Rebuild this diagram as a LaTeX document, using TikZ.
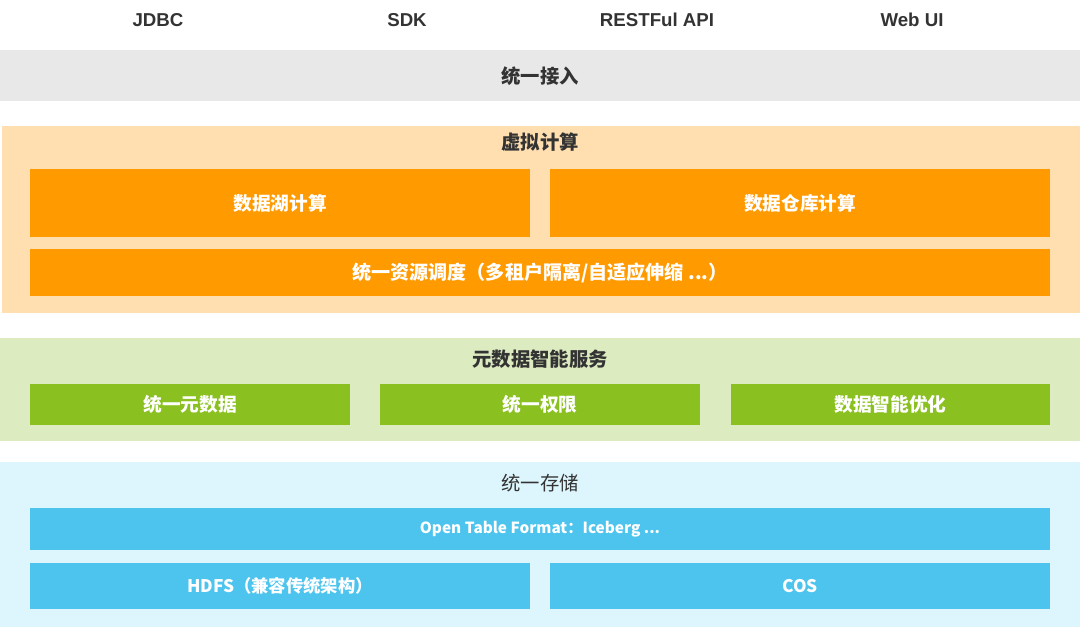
\documentclass[tikz,border=0pt]{standalone}
\usepackage{fontspec}
\setmainfont{Liberation Sans}
\newfontfamily\cjk{Noto Sans CJK SC}
\definecolor{textgray}{RGB}{51, 51, 51}
\definecolor{accessgray}{RGB}{232, 232, 232}
\definecolor{compbg}{RGB}{255, 223, 176}
\definecolor{compbox}{RGB}{255, 154, 0}
\definecolor{metabg}{RGB}{220, 235, 192}
\definecolor{metabox}{RGB}{138, 193, 32}
\definecolor{storebg}{RGB}{221, 246, 254}
\definecolor{storebox}{RGB}{77, 196, 238}

\begin{document}
\begin{tikzpicture}[x=0.75pt, y=-0.75pt,
  layer/.style={rectangle, inner sep=0pt, outer sep=0pt},
  title/.style={text=textgray, font=\cjk\bfseries\fontsize{14.5}{16}\selectfont},
  cell/.style={rectangle, inner sep=0pt, outer sep=0pt, text=white, font=\cjk\bfseries\fontsize{14}{16}\selectfont},
  api/.style={text=textgray, font=\bfseries\fontsize{14}{16}\selectfont}]
  \useasboundingbox[fill=white] (0,0) rectangle (1080,627);

  % Clients
  \node[api] (jdbc) at (158, 20) {JDBC};
  \node[api] (sdk) at (407, 20) {SDK};
  \node[api] (rest) at (657, 20) {RESTFul API};
  \node[api] (webui) at (912, 20) {Web UI};

  % Unified access
  \node[layer, fill=accessgray, minimum width=810pt, minimum height=38.25pt] (access) at (540, 75.5) {};
  \node[title] (accesst) at (540, 76) {统一接入};

  % Virtual compute
  \node[layer, fill=compbg, minimum width=808.5pt, minimum height=140.25pt] (comp) at (541, 219.5) {};
  \node[title] (compt) at (540, 142) {虚拟计算};
  \node[cell, fill=compbox, minimum width=375pt, minimum height=51pt] (lake) at (280, 203) {数据湖计算};
  \node[cell, fill=compbox, minimum width=375pt, minimum height=51pt] (dw) at (800, 203) {数据仓库计算};
  \node[cell, fill=compbox, minimum width=765pt, minimum height=35.25pt, font=\cjk\bfseries\fontsize{14.3}{16}\selectfont] (sched) at (540, 272.5) {统一资源调度（多租户隔离/自适应伸缩 ...）};

  % Metadata services
  \node[layer, fill=metabg, minimum width=810pt, minimum height=77.25pt] (meta) at (540, 389.5) {};
  \node[title] (metat) at (540, 359) {元数据智能服务};
  \node[cell, fill=metabox, minimum width=240pt, minimum height=30.75pt] (umeta) at (190, 404.5) {统一元数据};
  \node[cell, fill=metabox, minimum width=240pt, minimum height=30.75pt] (uperm) at (540, 404.5) {统一权限};
  \node[cell, fill=metabox, minimum width=239.25pt, minimum height=30.75pt] (opt) at (890.5, 404.5) {数据智能优化};

  % Unified storage
  \node[layer, fill=storebg, minimum width=810pt, minimum height=123.75pt] (store) at (540, 544.5) {};
  \node[title, font=\cjk\fontsize{14.5}{16}\selectfont] (storet) at (540, 483) {统一存储};
  \node[cell, fill=storebox, minimum width=765pt, minimum height=31.5pt, font=\cjk\bfseries\fontsize{11.5}{14}\selectfont] (otf) at (540, 529) {Open Table Format：Iceberg ...};
  \node[cell, fill=storebox, minimum width=375pt, minimum height=34.5pt, font=\cjk\bfseries\fontsize{13}{15}\selectfont] (hdfs) at (280, 586) {HDFS（兼容传统架构）};
  \node[cell, fill=storebox, minimum width=375pt, minimum height=34.5pt, font=\cjk\bfseries\fontsize{13}{15}\selectfont] (cos) at (800, 586) {COS};
\end{tikzpicture}
\end{document}
